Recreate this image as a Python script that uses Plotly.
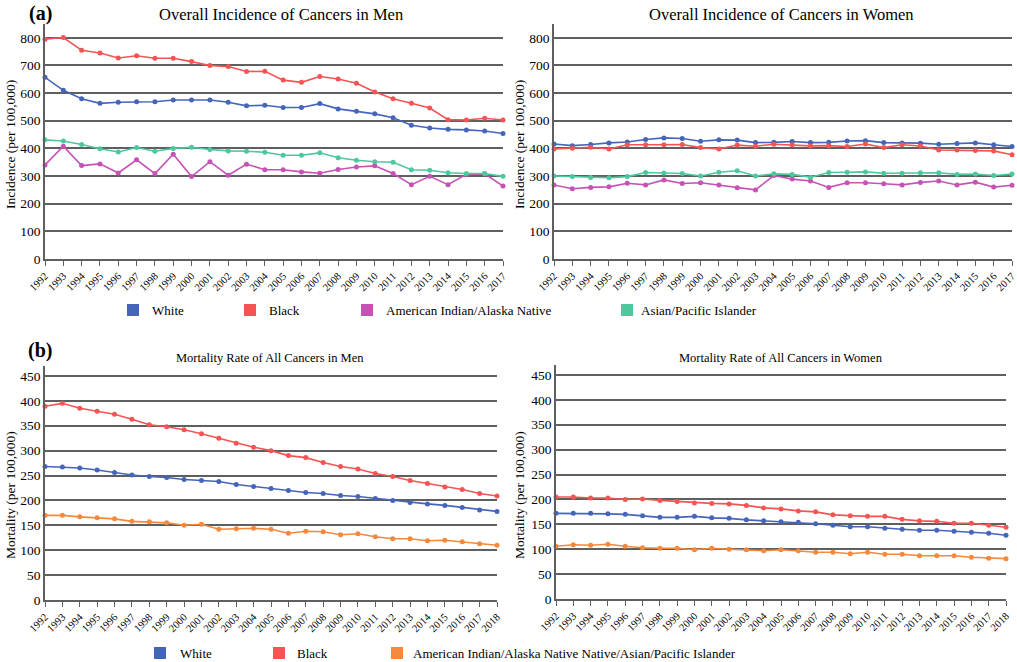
import plotly.graph_objects as go

# ---------------- data ----------------
years_inc = [1992, 1993, 1994, 1995, 1996, 1997, 1998, 1999, 2000, 2001, 2002, 2003, 2004,
             2005, 2006, 2007, 2008, 2009, 2010, 2011, 2012, 2013, 2014, 2015, 2016, 2017]
years_mort = years_inc + [2018]

inc_names = ["White", "Black", "American Indian/Alaska Native", "Asian/Pacific Islander"]
mort_names = ["White", "Black", "American Indian/Alaska Native Native/Asian/Pacific Islander"]

inc_men_white = [657, 610, 580, 563, 567, 569, 569, 575, 575, 575, 567, 554, 556,
                 548, 548, 562, 543, 534, 525, 511, 484, 474, 469, 467, 463, 454]
inc_men_black = [795, 801, 755, 745, 727, 735, 726, 726, 714, 700, 696, 678, 679,
                 647, 639, 660, 651, 636, 604, 580, 563, 546, 504, 503, 509, 503]
inc_men_aian = [340, 408, 338, 344, 311, 359, 309, 379, 298, 352, 303, 343, 323,
                323, 315, 310, 324, 333, 337, 309, 269, 299, 269, 306, 308, 264]
inc_men_api = [431, 427, 414, 399, 387, 403, 390, 400, 404, 396, 391, 390, 386,
               375, 375, 384, 366, 357, 352, 350, 323, 321, 312, 309, 309, 299]

inc_women_white = [416, 410, 414, 420, 423, 432, 438, 436, 426, 431, 430, 421, 422,
                   425, 421, 422, 427, 428, 421, 420, 419, 415, 418, 420, 413, 407]
inc_women_black = [398, 401, 404, 398, 413, 413, 413, 414, 403, 398, 412, 408, 415,
                   413, 409, 410, 407, 416, 403, 413, 409, 394, 394, 392, 391, 377]
inc_women_aian = [268, 254, 259, 261, 274, 268, 286, 273, 276, 268, 258, 250, 302,
                  289, 282, 259, 276, 276, 272, 268, 277, 282, 268, 278, 260, 267]
inc_women_api = [300, 298, 295, 294, 298, 313, 311, 309, 300, 314, 319, 300, 308,
                 306, 296, 313, 314, 315, 310, 310, 312, 312, 306, 307, 302, 307]

mort_men_white = [268, 267, 265, 261, 256, 251, 248, 246, 242, 240, 238, 232, 228, 224,
                  220, 216, 214, 210, 208, 204, 200, 196, 193, 190, 186, 181, 178]
mort_men_black = [389, 395, 385, 379, 373, 363, 352, 348, 342, 334, 325, 315, 307, 300,
                  290, 286, 276, 268, 263, 254, 248, 240, 234, 227, 222, 214, 209]
mort_men_other = [170, 170, 167, 165, 163, 158, 157, 155, 150, 152, 142, 143, 144, 142,
                  134, 138, 137, 131, 133, 127, 123, 123, 119, 120, 117, 113, 110]

mort_women_white = [172, 172, 172, 171, 170, 167, 164, 164, 166, 163, 162, 159, 157, 155,
                    154, 151, 148, 145, 145, 142, 140, 138, 138, 136, 134, 132, 128]
mort_women_black = [205, 205, 203, 203, 200, 201, 198, 196, 193, 192, 191, 188, 183, 181,
                    177, 175, 169, 167, 166, 166, 160, 157, 156, 152, 152, 148, 144]
mort_women_other = [106, 109, 108, 110, 106, 103, 102, 102, 99, 102, 100, 99, 97, 99,
                    97, 94, 94, 91, 94, 90, 90, 87, 87, 87, 84, 82, 81]

# ---------------- styles ----------------
FONT = "Liberation Serif"
C_WHITE = "#4565BA"
C_BLACK = "#F45454"
C_AIAN = "#C652B6"
C_API = "#4CC89C"
C_OTHER = "#F5883A"
GRID = "#5f5f5f"

W, H = 1017, 662


def px_x(p):
    return p / W


def px_y(p):
    return 1 - p / H


fig = go.Figure()


def add_line(x, y, color, xa, ya):
    fig.add_trace(go.Scatter(
        x=x, y=y, mode="lines+markers", xaxis=xa, yaxis=ya,
        line=dict(color=color, width=1.6),
        marker=dict(color=color, size=5, symbol="circle"),
        cliponaxis=False, showlegend=False, hoverinfo="x+y"))


# top-left: incidence men
for vals, col in zip([inc_men_white, inc_men_black, inc_men_aian, inc_men_api],
                     [C_WHITE, C_BLACK, C_AIAN, C_API]):
    add_line(years_inc, vals, col, "x", "y")
# top-right: incidence women
for vals, col in zip([inc_women_white, inc_women_black, inc_women_aian, inc_women_api],
                     [C_WHITE, C_BLACK, C_AIAN, C_API]):
    add_line(years_inc, vals, col, "x2", "y2")
# bottom-left: mortality men
for vals, col in zip([mort_men_white, mort_men_black, mort_men_other],
                     [C_WHITE, C_BLACK, C_OTHER]):
    add_line(years_mort, vals, col, "x3", "y3")
# bottom-right: mortality women
for vals, col in zip([mort_women_white, mort_women_black, mort_women_other],
                     [C_WHITE, C_BLACK, C_OTHER]):
    add_line(years_mort, vals, col, "x4", "y4")


def xcfg(domain, anchor, years):
    return dict(domain=domain, anchor=anchor, range=[years[0], years[-1]],
                tickmode="array", tickvals=years, ticktext=[str(v) for v in years],
                tickangle=-45, showgrid=False, zeroline=False, automargin=False,
                ticklabeloverflow="allow",
                showline=True, linecolor=GRID, linewidth=1.5,
                ticks="outside", ticklen=5, tickwidth=1.2, tickcolor=GRID,
                tickfont=dict(family=FONT, size=10.5, color="black"))


def ycfg(domain, anchor, top, dtick):
    return dict(domain=domain, anchor=anchor, range=[0, top], tick0=0, dtick=dtick,
                showgrid=True, gridcolor=GRID, gridwidth=1.5, zeroline=False,
                automargin=False, ticklabeloverflow="allow",
                showline=True, linecolor=GRID, linewidth=1.5, ticks="",
                tickfont=dict(family=FONT, size=13.5, color="black"))


top_dom = [px_y(259), px_y(24)]
fig.update_layout(
    xaxis=xcfg([px_x(45), px_x(503)], "y", years_inc),
    yaxis=ycfg(top_dom, "x", 850, 100),
    xaxis2=xcfg([px_x(554), px_x(1012)], "y2", years_inc),
    yaxis2=ycfg(top_dom, "x2", 850, 100),
    xaxis3=xcfg([px_x(45), px_x(497)], "y3", years_mort),
    yaxis3=ycfg([px_y(600), px_y(366)], "x3", 470, 50),
    xaxis4=xcfg([px_x(556), px_x(1006)], "y4", years_mort),
    yaxis4=ycfg([px_y(599), px_y(365)], "x4", 470, 50),
)

ann = []


def text(x, y, s, size, bold=False, angle=0, xanchor="center"):
    ann.append(dict(x=px_x(x), y=px_y(y), xref="paper", yref="paper", text=s,
                    showarrow=False, xanchor=xanchor, yanchor="middle", textangle=angle,
                    font=dict(family=FONT, size=size, color="black")))
    if bold:
        ann[-1]["text"] = "<b>" + s + "</b>"


text(40, 13, "(a)", 20, bold=True)
text(40, 350, "(b)", 20, bold=True)
text(281, 14, "Overall Incidence of Cancers in Men", 16.5)
text(781, 14, "Overall Incidence of Cancers in Women", 16.5)
text(270, 358, "Mortality Rate of All Cancers in Men", 12.5)
text(781, 358, "Mortality Rate of All Cancers in Women", 12.5)
text(10, 145, "Incidence (per 100,000)", 13.5, angle=-90)
text(519, 145, "Incidence (per 100,000)", 13.5, angle=-90)
text(10, 495, "Mortality (per 100,000)", 13.5, angle=-90)
text(519, 495, "Mortality (per 100,000)", 13.5, angle=-90)

# legends (manual, positioned like the reference)
shapes = []


def legend_item(sx, cy, color, label, tx):
    shapes.append(dict(type="rect", xref="paper", yref="paper",
                       x0=px_x(sx), x1=px_x(sx + 12), y0=px_y(cy + 6), y1=px_y(cy - 6),
                       fillcolor=color, line=dict(width=0)))
    text(tx, cy, label, 13, xanchor="left")


for sx, tx, col, name in zip([127, 244, 361, 621], [150, 267, 384, 639],
                             [C_WHITE, C_BLACK, C_AIAN, C_API], inc_names):
    legend_item(sx, 310, col, name, tx)
for sx, tx, col, name in zip([154, 273, 391], [178, 295, 411],
                             [C_WHITE, C_BLACK, C_OTHER], mort_names):
    legend_item(sx, 653, col, name, tx)

fig.update_layout(
    width=W, height=H, margin=dict(l=0, r=0, t=0, b=0),
    paper_bgcolor="white", plot_bgcolor="white",
    annotations=ann, shapes=shapes, showlegend=False,
    font=dict(family=FONT, color="black"),
)

# remove the default 8px page margin so the figure fills the window exactly
fig.write_html("out.html",
               config={"displayModeBar": False},
               post_script="document.body.style.margin='0';"
                           "document.body.style.overflow='hidden';")
